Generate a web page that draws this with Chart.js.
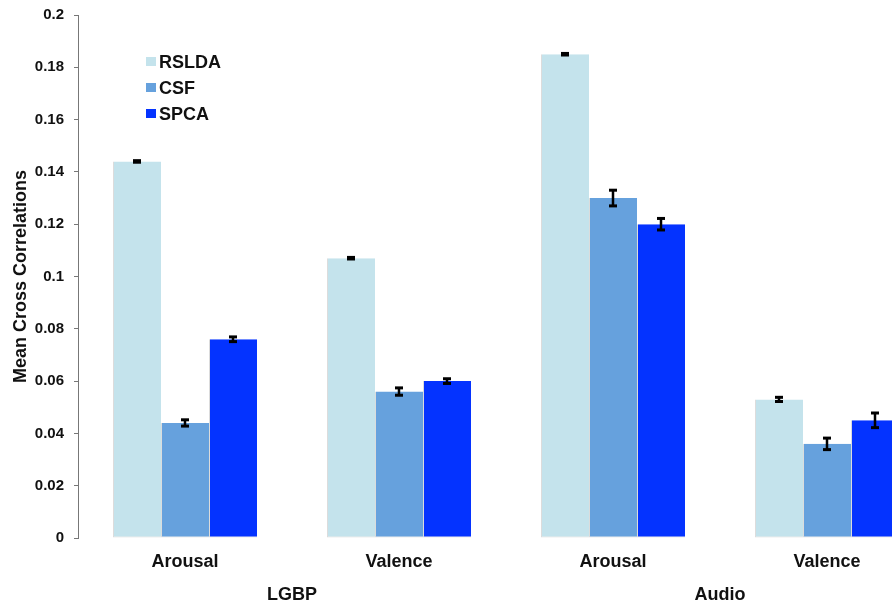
<!DOCTYPE html>
<html lang="en">
<head>
    <meta charset="UTF-8">
    <title>Mean Cross Correlations</title>
    <style>
        * { margin: 0; padding: 0; box-sizing: border-box; }
        body { background: #ffffff; overflow: hidden; width: 892px; height: 604px; }
        canvas { display: block; }
    </style>
</head>
<body>
    <canvas id="corrChart" width="934" height="604"></canvas>
    <script src="https://cdn.jsdelivr.net/npm/chart.js"></script>
    <script>
        // Conditions along the x axis, and the feature set each pair belongs to
        const conditions = ['Arousal', 'Valence', 'Arousal', 'Valence'];
        const featureSets = ['LGBP', 'Audio'];
        const yTicks = [0, 0.02, 0.04, 0.06, 0.08, 0.1, 0.12, 0.14, 0.16, 0.18, 0.2];

        // Mean cross correlation per method, with its error half-width
        const rsldaMeans = [0.144, 0.107, 0.185, 0.053];
        const rsldaErrs  = [0.0003, 0.0003, 0.0003, 0.0008];
        const csfMeans   = [0.044, 0.056, 0.130, 0.036];
        const csfErrs    = [0.0012, 0.0014, 0.0030, 0.0022];
        const spcaMeans  = [0.076, 0.060, 0.120, 0.045];
        const spcaErrs   = [0.0009, 0.0009, 0.0022, 0.0028];

        const series = [
            { label: 'RSLDA', data: rsldaMeans, errs: rsldaErrs, color: '#c4e3ec' },
            { label: 'CSF',   data: csfMeans,   errs: csfErrs,   color: '#66a1dd' },
            { label: 'SPCA',  data: spcaMeans,  errs: spcaErrs,  color: '#0433ff' }
        ];

        const boldFont = size => ({ family: "'Liberation Sans', Arial, Helvetica, sans-serif", size: size, weight: 'bold' });

        // error bars: vertical stroke with flat caps, drawn over each bar
        const errorBars = {
            id: 'errorBars',
            afterDatasetsDraw(chart) {
                const ctx = chart.ctx;
                const y = chart.scales.y;
                ctx.save();
                ctx.fillStyle = '#000';
                series.forEach((s, i) => {
                    chart.getDatasetMeta(i).data.forEach((bar, j) => {
                        const top = y.getPixelForValue(s.data[j] + s.errs[j]);
                        const bot = y.getPixelForValue(s.data[j] - s.errs[j]);
                        const x = Math.round(bar.x);
                        ctx.fillRect(x - 1.25, top, 2.5, bot - top);
                        ctx.fillRect(x - 4, top - 1.5, 8, 3);
                        ctx.fillRect(x - 4, bot - 1.5, 8, 3);
                    });
                });
                ctx.restore();
            }
        };

        // legend sits inside the plot, top left
        const insideLegend = {
            id: 'insideLegend',
            afterDraw(chart) {
                const ctx = chart.ctx;
                ctx.save();
                ctx.font = 'bold 18px "Liberation Sans", Arial, sans-serif';
                ctx.textBaseline = 'middle';
                series.forEach((s, i) => {
                    const cy = 62 + i * 26;
                    ctx.fillStyle = s.color;
                    ctx.fillRect(146, cy - 5, 10, 9);
                    ctx.fillStyle = '#111';
                    ctx.fillText(s.label, 159, cy + 1);
                });
                ctx.restore();
            }
        };

        new Chart(document.getElementById('corrChart'), {
            type: 'bar',
            data: {
                labels: conditions,
                datasets: series.map(s => ({
                    label: s.label,
                    data: s.data,
                    backgroundColor: s.color,
                    borderColor: 'rgba(0, 0, 0, 0.14)',
                    borderWidth: { left: 1, bottom: 1, top: 0, right: 0 },
                    borderSkipped: false,
                    categoryPercentage: 0.673,
                    barPercentage: 1.0
                }))
            },
            options: {
                responsive: false,
                animation: false,
                layout: { padding: { top: 15, right: 0, left: 0, bottom: 0 } },
                plugins: {
                    legend: { display: false },
                    tooltip: { enabled: false }
                },
                scales: {
                    y: {
                        min: 0,
                        max: 0.2,
                        afterBuildTicks: scale => { scale.ticks = yTicks.map(v => ({ value: v })); },
                        afterFit: scale => {
                            scale.width = 78;
                            scale.paddingTop = 0;
                            scale.paddingBottom = 0;
                        },
                        ticks: {
                            color: '#111',
                            font: boldFont(15),
                            padding: 10,
                            callback: v => String(+v.toFixed(2))
                        },
                        grid: { drawOnChartArea: false, drawTicks: true, tickLength: 4, color: '#777' },
                        border: { display: true, color: '#777', width: 1 },
                        title: {
                            display: true,
                            text: 'Mean Cross Correlations',
                            color: '#111',
                            font: boldFont(18),
                            padding: { top: 10, bottom: 0 }
                        }
                    },
                    x: {
                        afterFit: scale => { scale.height = 36; },
                        grid: { display: false, drawTicks: false },
                        border: { display: false },
                        ticks: { color: '#111', font: boldFont(18), padding: 13, maxRotation: 0 }
                    },
                    x2: {
                        type: 'category',
                        position: 'bottom',
                        labels: featureSets,
                        offset: true,
                        afterFit: scale => { scale.height = 30; },
                        grid: { display: false, drawTicks: false },
                        border: { display: false },
                        ticks: { color: '#111', font: boldFont(18), padding: 10, maxRotation: 0 }
                    }
                }
            },
            plugins: [errorBars, insideLegend]
        });
    </script>
</body>
</html>
